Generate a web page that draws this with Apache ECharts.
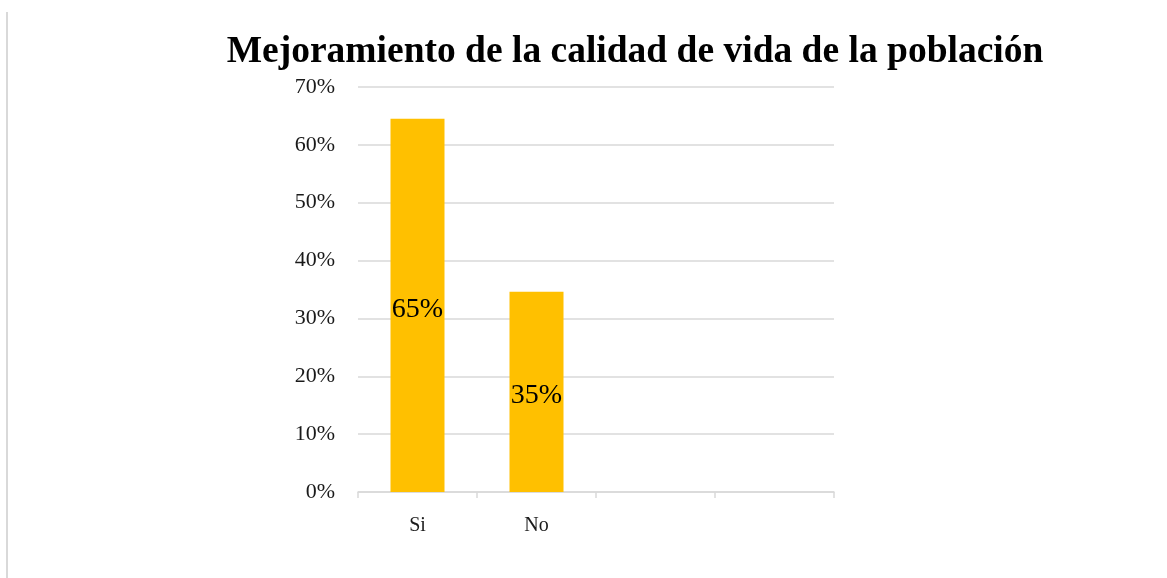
<!DOCTYPE html>
<html>
<head>
<meta charset="utf-8">
<script src="https://cdn.jsdelivr.net/npm/echarts@6/dist/echarts.min.js"></script>
<style>
  html, body { margin: 0; padding: 0; background: #fff; }
  #myChart { width: 1167px; height: 578px; }
</style>
</head>
<body>
<div id="myChart"></div>
<script>
// datos del gráfico
var titulo = "Mejoramiento de la calidad de vida de la población";
var categorias = ["Si", "No", "", ""];
var porcentajes = [64.5, 34.6, null, null];
var ticksY = [0, 10, 20, 30, 40, 50, 60, 70];

var serif = "'Liberation Serif', 'Times New Roman', serif";
var chart = echarts.init(document.getElementById("myChart"));
var option = {
  animation: false,
  title: {
    text: titulo,
    left: 630,
    textAlign: "center",
    top: 28,
    textStyle: {
      fontFamily: serif,
      fontWeight: "bold",
      fontSize: 37.5,
      color: "#000",
    },
  },
  graphic: [
    {
      type: "line",
      shape: { x1: 7, y1: 12, x2: 7, y2: 578 },
      style: { stroke: "#d9d9d9", lineWidth: 2 },
    },
  ],
  grid: {
    left: 358,
    right: 333,
    top: 87,
    bottom: 86,
  },
  xAxis: {
    type: "category",
    data: categorias,
    axisLine: { lineStyle: { color: "#d9d9d9", width: 1.5 } },
    axisTick: { show: true, length: 6, lineStyle: { color: "#d9d9d9", width: 1.5 } },
    axisLabel: {
      fontFamily: serif,
      fontSize: 20,
      color: "#1a1a1a",
      margin: 24,
    },
  },
  yAxis: {
    type: "value",
    min: ticksY[0],
    max: ticksY[ticksY.length - 1],
    interval: 10,
    axisLine: { show: false },
    axisTick: { show: false },
    splitLine: { lineStyle: { color: "#d9d9d9", width: 1.5 } },
    axisLabel: {
      formatter: "{value}%",
      fontFamily: serif,
      fontSize: 22,
      color: "#1a1a1a",
      margin: 23,
    },
  },
  series: [
    {
      type: "bar",
      data: porcentajes,
      barWidth: 54,
      itemStyle: { color: "#FFC000" },
      label: {
        show: true,
        position: "inside",
        offset: [0, 4],
        formatter: function (p) {
          return Math.round(p.value) + "%";
        },
        fontFamily: serif,
        fontSize: 28,
        color: "#000",
      },
    },
  ],
};
chart.setOption(option);
</script>
</body>
</html>
